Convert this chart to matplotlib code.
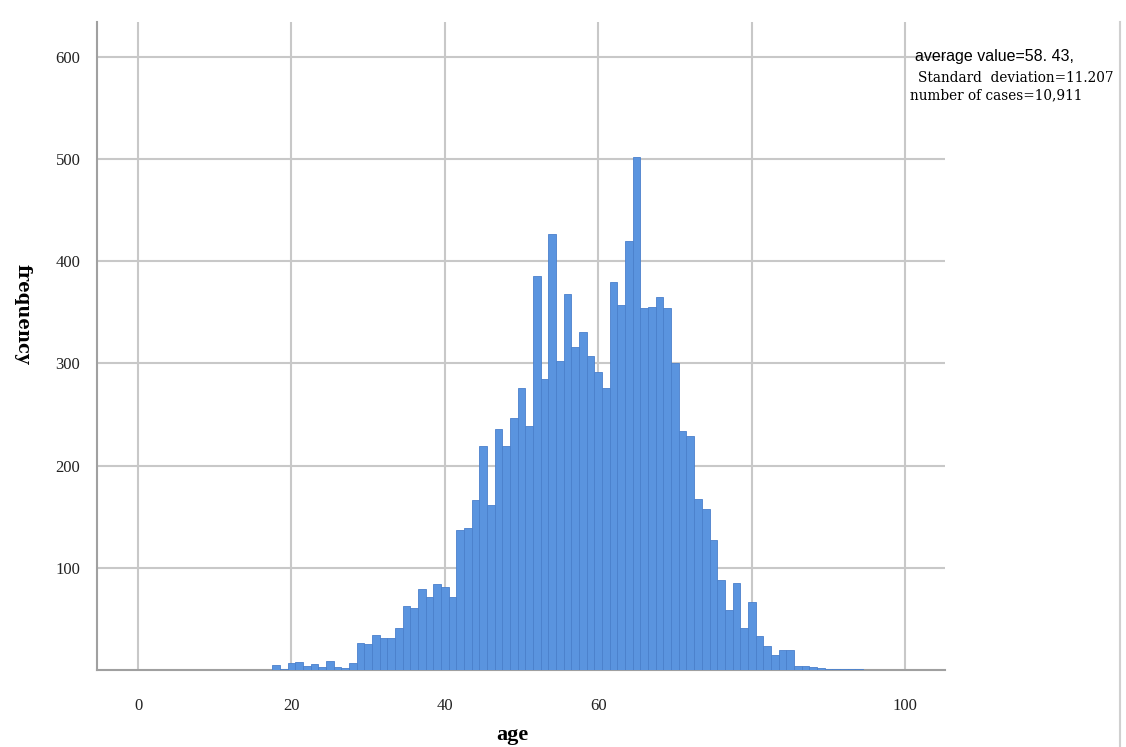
import matplotlib.pyplot as plt

# age (years) and number of cases for each one-year bin
ages = list(range(18, 95))
counts = [5, 1, 7, 8, 4, 6, 3, 9, 3, 2, 7, 26, 25, 34, 31, 31, 41, 63, 61, 79,
          71, 84, 81, 71, 137, 139, 166, 219, 161, 236, 219, 247, 276, 239, 385,
          285, 427, 302, 368, 316, 331, 307, 292, 276, 380, 357, 420, 502, 354,
          355, 365, 354, 300, 234, 229, 167, 158, 127, 88, 59, 85, 41, 67, 33,
          23, 15, 20, 20, 4, 4, 3, 2, 1, 1, 1, 1, 1]

xticks = [0, 20, 40, 60, 80, 100]
xtick_labels = ['0', '20', '40', '60', '', '100']
yticks = [100, 200, 300, 400, 500, 600]

fig = plt.figure(figsize=(11.26, 7.47), dpi=100)
ax = fig.add_axes([97 / 1126, 1 - 670 / 747, 848 / 1126, 648 / 747])

ax.bar(ages, counts, width=1.0, color='#5a94df', edgecolor='#4a80cc', linewidth=0.6, zorder=3)

ax.set_xlim(-5.35, 105.2)
ax.set_ylim(0, 634)
ax.set_xticks(xticks)
ax.set_xticklabels(xtick_labels)
ax.set_yticks(yticks)
ax.grid(True, color='#c8c8c8', linewidth=1.5, zorder=0)
ax.set_axisbelow(True)

for s in ['top', 'right']:
    ax.spines[s].set_visible(False)
for s in ['left', 'bottom']:
    ax.spines[s].set_color('#a0a0a0')
    ax.spines[s].set_linewidth(1.5)

ax.tick_params(length=0)
ax.tick_params(axis='x', pad=20)
ax.tick_params(axis='y', pad=12)
for lab in ax.get_xticklabels() + ax.get_yticklabels():
    lab.set_fontfamily('Liberation Serif')
    lab.set_fontsize(12)
    lab.set_color('#222222')

fig.text(512 / 1126, 1 - 735 / 747, 'age', ha='center', va='center',
         fontsize=16, fontweight='bold', family='Liberation Serif')
fig.text(22 / 1126, 1 - 314 / 747, 'frequency', ha='center', va='center', rotation=-90,
         fontsize=13, fontweight='bold', family='DejaVu Serif')

fig.text(915 / 1126, 1 - 57 / 747, 'average value=58. 43,', ha='left', va='center',
         fontsize=11.5, family='Liberation Sans')
fig.text(918 / 1126, 1 - 78 / 747, 'Standard  deviation=11.207', ha='left', va='center',
         fontsize=9.8, family='DejaVu Serif')
fig.text(910 / 1126, 1 - 95 / 747, 'number of cases=10,911', ha='left', va='center',
         fontsize=9.8, family='DejaVu Serif')

# thin border line at the right edge of the picture
fig.add_artist(plt.Line2D([1120 / 1126, 1120 / 1126], [0, 0.97], color='#d0d0d0', linewidth=1.5))

fig.savefig('out.png', dpi=100)
